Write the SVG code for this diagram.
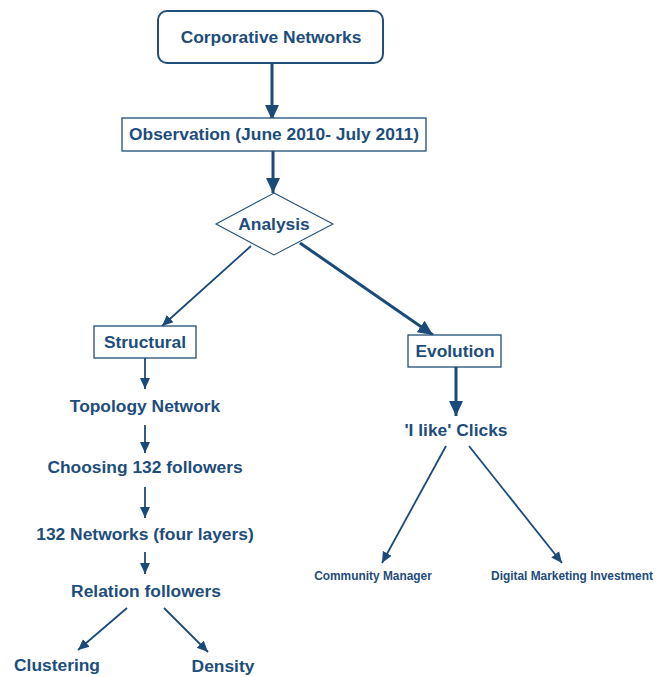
<svg xmlns="http://www.w3.org/2000/svg" width="656" height="677" viewBox="0 0 656 677">
<defs>
<style>
.t{font-family:"Liberation Sans",Arial,sans-serif;font-weight:bold;fill:#1d4d7c;text-anchor:middle}
.t17{font-size:17.4px}
.t12{font-size:11.9px}
.box{fill:#fff;stroke:#1f4e79}
.c1{stroke:#1a4a7a;stroke-width:3;fill:none}
.c2{stroke:#1a4a7a;stroke-width:1.8;fill:none}
</style>
<marker id="ah" markerUnits="userSpaceOnUse" markerWidth="16" markerHeight="16" viewBox="0 0 16 16" refX="15" refY="8" orient="auto">
<path d="M0,1 L15,8 L0,15 z" fill="#1a4a7a"/>
</marker>
<marker id="as" markerUnits="userSpaceOnUse" markerWidth="12" markerHeight="12" viewBox="0 0 12 12" refX="11" refY="6" orient="auto">
<path d="M0,1 L11,6 L0,11 z" fill="#1a4a7a"/>
</marker>
</defs>
<rect width="656" height="677" fill="#fff"/>
<g id="connectors">
<line class="c1" x1="272" y1="63" x2="272" y2="120" marker-end="url(#ah)"/>
<line class="c1" x1="273" y1="151" x2="273" y2="193" marker-end="url(#ah)"/>
<line class="c2" x1="251" y1="246" x2="162" y2="326" marker-end="url(#as)"/>
<line class="c1" x1="300" y1="243" x2="433" y2="335" marker-end="url(#ah)"/>
<line class="c2" x1="145" y1="358" x2="145" y2="389" marker-end="url(#as)"/>
<line class="c2" x1="145" y1="425" x2="145" y2="453" marker-end="url(#as)"/>
<line class="c2" x1="145" y1="487" x2="145" y2="518" marker-end="url(#as)"/>
<line class="c2" x1="145" y1="552" x2="145" y2="574" marker-end="url(#as)"/>
<line class="c2" x1="127" y1="608" x2="78" y2="650" marker-end="url(#as)"/>
<line class="c2" x1="164" y1="608" x2="208" y2="652" marker-end="url(#as)"/>
<line class="c1" x1="456" y1="367" x2="456" y2="416" marker-end="url(#ah)"/>
<line class="c2" x1="446" y1="446" x2="382" y2="563" marker-end="url(#as)"/>
<line class="c2" x1="469" y1="446" x2="562" y2="563" marker-end="url(#as)"/>
</g>
<g id="corporative">
<rect class="box" x="158" y="11" width="225" height="52" rx="9" stroke-width="2"/>
<text class="t t17" x="271" y="43">Corporative Networks</text>
</g>
<g id="observation">
<rect class="box" x="122" y="118" width="304" height="33" stroke-width="1.3"/>
<text class="t t17" x="274" y="140">Observation (June 2010- July 2011)</text>
</g>
<g id="analysis">
<polygon class="box" points="274,193 333,224 274,255 216,224" stroke-width="1.1" stroke="#2f5f8c"/>
<text class="t t17" x="274" y="230">Analysis</text>
</g>
<g id="structural">
<rect class="box" x="94" y="326" width="102" height="32" stroke-width="1.3"/>
<text class="t t17" x="145" y="348">Structural</text>
</g>
<g id="topology">
<text class="t t17" x="145" y="412">Topology Network</text>
</g>
<g id="choosing">
<text class="t t17" x="145" y="473">Choosing 132 followers</text>
</g>
<g id="networks132">
<text class="t t17" x="145" y="540">132 Networks (four layers)</text>
</g>
<g id="relation">
<text class="t t17" x="146" y="597">Relation followers</text>
</g>
<g id="clustering">
<text class="t t17" x="57" y="671">Clustering</text>
</g>
<g id="density">
<text class="t t17" x="223" y="672">Density</text>
</g>
<g id="evolution">
<rect class="box" x="408" y="335" width="93" height="32" stroke-width="1.3"/>
<text class="t t17" x="455" y="357">Evolution</text>
</g>
<g id="ilike">
<text class="t t17" x="456" y="436">'I like' Clicks</text>
</g>
<g id="community">
<text class="t t12" x="373" y="580">Community Manager</text>
</g>
<g id="digital">
<text class="t t12" x="572" y="580">Digital Marketing Investment</text>
</g>
</svg>
